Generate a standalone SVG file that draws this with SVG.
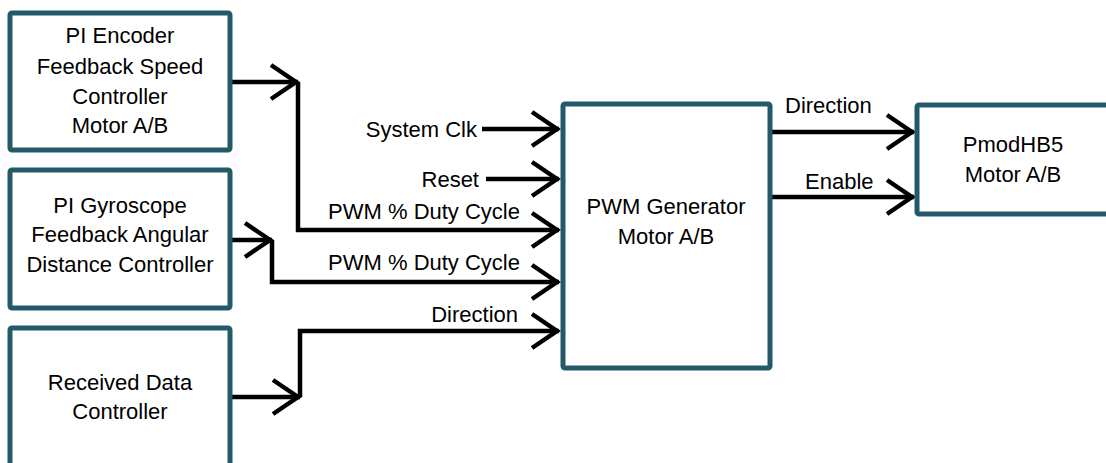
<svg xmlns="http://www.w3.org/2000/svg" width="1106" height="463" viewBox="0 0 1106 463">
<defs>
<style>
.box{fill:#fff;stroke:#225A69;stroke-width:5}
.t{font-family:"Liberation Sans",Arial,sans-serif;font-size:22px;fill:#000}
.m{text-anchor:middle}
.e{text-anchor:end}
.c{fill:none;stroke:#000;stroke-width:4.5;stroke-linejoin:miter}
.a{marker-end:url(#arr)}
</style>
<marker id="arr" markerUnits="userSpaceOnUse" markerWidth="40" markerHeight="40" refX="0" refY="0" viewBox="-30 -20 34 40" orient="auto" overflow="visible">
<path d="M-27,-17 L-2,0 L-27,17" fill="none" stroke="#000" stroke-width="4.5"/>
</marker>
</defs>
<rect width="1106" height="463" fill="#fff"/>
<g id="connectors">
<path class="c a" d="M232,82 H298"/>
<path class="c a" d="M298,82 V230 H559"/>
<path class="c a" d="M232,240 H272"/>
<path class="c a" d="M272,240 V282 H559"/>
<path class="c a" d="M232,397 H300"/>
<path class="c a" d="M300,397 V331 H559"/>
<path class="c a" d="M482,129 H559"/>
<path class="c a" d="M486,179 H559"/>
<path class="c a" d="M772,132 H914"/>
<path class="c a" d="M772,197 H914"/>
<text class="t e" x="477" y="137">System Clk</text>
<text class="t e" x="479" y="187">Reset</text>
<text class="t e" x="520" y="219">PWM % Duty Cycle</text>
<text class="t e" x="520" y="270">PWM % Duty Cycle</text>
<text class="t e" x="518" y="322">Direction</text>
<text class="t" x="785" y="113">Direction</text>
<text class="t" x="805" y="189">Enable</text>
</g>
<g id="pi-encoder">
<rect class="box" x="10" y="13" width="220" height="137" rx="2"/>
<text class="t m" x="120" y="43">PI Encoder</text>
<text class="t m" x="120" y="74">Feedback Speed</text>
<text class="t m" x="120" y="104">Controller</text>
<text class="t m" x="120" y="133">Motor A/B</text>
</g>
<g id="pi-gyroscope">
<rect class="box" x="10" y="170" width="220" height="138" rx="2"/>
<text class="t m" x="120" y="213">PI Gyroscope</text>
<text class="t m" x="120" y="242">Feedback Angular</text>
<text class="t m" x="120" y="272">Distance Controller</text>
</g>
<g id="received-data">
<rect class="box" x="10" y="328" width="220" height="160" rx="2"/>
<text class="t m" x="120" y="390">Received Data</text>
<text class="t m" x="120" y="419">Controller</text>
</g>
<g id="pwm-generator">
<rect class="box" x="563" y="104" width="207" height="264" rx="2"/>
<text class="t m" x="666" y="214">PWM Generator</text>
<text class="t m" x="666" y="244">Motor A/B</text>
</g>
<g id="pmodhb5">
<rect class="box" x="917" y="105" width="200" height="109" rx="2"/>
<text class="t m" x="1013" y="152">PmodHB5</text>
<text class="t m" x="1013" y="182">Motor A/B</text>
</g>
</svg>
